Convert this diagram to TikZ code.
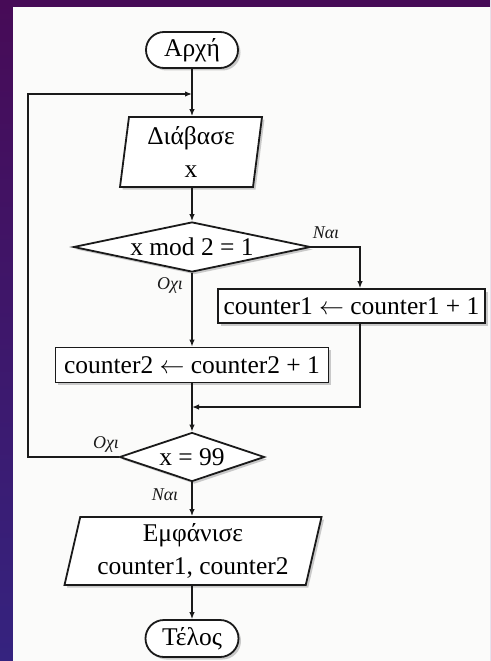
\documentclass[tikz,border=0pt]{standalone}
\usepackage{fontspec}
\setmainfont{Liberation Serif}
\usetikzlibrary{shapes.geometric,shapes.misc,shadows,arrows.meta}
\definecolor{bgtop}{HTML}{470B57}
\definecolor{bgbot}{HTML}{35237F}
\definecolor{paper}{HTML}{FBFBFA}
\definecolor{ink}{HTML}{1A1A1A}
\begin{document}
\begin{tikzpicture}[x=1pt,y=-1pt,
  base/.style={draw=ink, line width=1.8pt, fill=white,
    font=\fontsize{25.5}{33}\selectfont,
    drop shadow={shadow xshift=2.5pt,shadow yshift=-2.5pt,fill=black!40}},
  term/.style={base, rounded rectangle, minimum width=92pt, minimum height=36pt, inner sep=0pt},
  io/.style={base, trapezium, trapezium stretches body, align=center, inner sep=0pt},
  proc/.style={base, rectangle, inner sep=0pt},
  dec/.style={base, diamond, inner sep=0pt},
  conn/.style={draw=ink, line width=1.3pt, -{Latex[length=7pt,width=5.5pt]}},
  lbl/.style={font=\fontsize{18}{18}\selectfont\itshape, text=ink}]
\useasboundingbox (0,0) rectangle (490,661);
\shade[top color=bgtop,bottom color=bgbot] (0,0) rectangle (490,661);
\fill[paper] (13,7) rectangle (490,661);

\node[term] (start) at (192,50) {Αρχή};
\node[io, trapezium left angle=80, trapezium right angle=100,
  minimum width=142pt, minimum height=70pt] (read) at (191,152) {Διάβασε\\x};
\node[dec, minimum width=237pt, minimum height=50pt, aspect=4.74] (d1) at (192,247) {x mod 2 = 1};
\node[proc, minimum width=267pt, minimum height=34pt] (c1) at (351.5,306)
  {counter1 \ensuremath{\leftarrow} counter1 + 1};
\node[proc, minimum width=273pt, minimum height=35pt] (c2) at (192,365)
  {counter2 \ensuremath{\leftarrow} counter2 + 1};
\node[dec, minimum width=145pt, minimum height=49pt, aspect=2.96] (d2) at (192,457) {x = 99};
\node[io, trapezium left angle=74, trapezium right angle=106,
  minimum width=257pt, minimum height=68pt] (out) at (193,551) {Εμφάνισε\\counter1, counter2};
\node[term, minimum width=93pt, minimum height=37pt] (end) at (192,638.5) {Τέλος};

\coordinate (j1) at (192,94);
\coordinate (j2) at (192,407);
\coordinate (colR) at (360,0);
\coordinate (colL) at (28,0);

\draw[conn] (start.south) -- (read.north -| start.south);
\draw[conn] (read.south -| start.south) -- (d1.north);
\draw[conn] (d1.east) -| (c1.north -| colR);
\draw[conn] (d1.south) -- (c2.north);
\draw[conn] (c1.south -| colR) |- (j2);
\draw[conn] (c2.south) -- (d2.north);
\draw[conn] (d2.west) -- (d2.west -| colL) |- (j1);
\draw[conn] (d2.south) -- (out.north -| d2.south);
\draw[conn] (out.south -| end.north) -- (end.north);

\node[lbl] (yes1) at (326,233) {Ναι};
\node[lbl] (no1) at (170,285) {Οχι};
\node[lbl] (no2) at (106,444) {Οχι};
\node[lbl] (yes2) at (165,495) {Ναι};
\end{tikzpicture}
\end{document}
